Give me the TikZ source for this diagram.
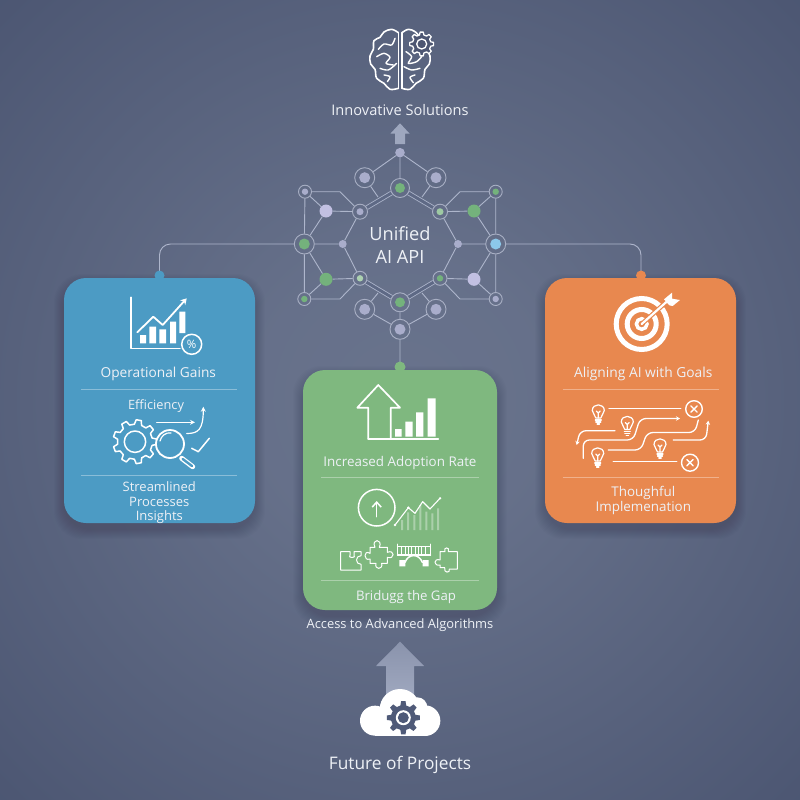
\documentclass[tikz,border=0pt]{standalone}
\usepackage{fontspec}
\setmainfont{Open Sans}
\usetikzlibrary{arrows.meta,calc}
\pgfdeclarelayer{bgl}\pgfdeclarelayer{edges}
\pgfsetlayers{bgl,edges,main}
\definecolor{txt}{HTML}{EEF1F6}
\definecolor{edgec}{HTML}{AEB6CC}
\definecolor{ringc}{HTML}{BFC5D8}
\definecolor{hexin}{HTML}{5E6985}
\definecolor{lav}{HTML}{A9ADCB}
\definecolor{lavb}{HTML}{C2C0E2}
\definecolor{grn}{HTML}{74B27C}
\definecolor{blu}{HTML}{8CC8EA}
\definecolor{pblue}{HTML}{4C9BC4}
\definecolor{pgreen}{HTML}{7FB87F}
\definecolor{porange}{HTML}{E8884F}
\definecolor{gearbg}{HTML}{4F5A78}
\definecolor{iconbg}{HTML}{4D5672}
\pgfdeclareradialshading{bgrad}{\pgfpoint{0bp}{0bp}}{rgb(0bp)=(0.41,0.45,0.55);rgb(9bp)=(0.40,0.44,0.54);rgb(35bp)=(0.30,0.34,0.45);rgb(50bp)=(0.275,0.315,0.425);rgb(71bp)=(0.27,0.31,0.42)}
\tikzset{
  lbl/.style={text=txt,inner sep=0pt,align=center,font=\fontsize{#1}{#1}\selectfont},
  lbl/.default=12,
  ico/.style={draw=white,line width=1.5pt,line cap=round,line join=round},
  dividerline/.style={draw=white,draw opacity=.35,line width=.8pt},
  panelbox/.style={rounded corners=22pt,minimum width=#1,inner sep=0pt,draw=none},
  netring/.style={circle,draw=ringc,draw opacity=.75,line width=.9pt,inner sep=0pt},
  netedge/.style={draw=edgec,line width=.9pt},
  conn/.style={draw=edgec,line width=.9pt,rounded corners=11pt},
}
% name x y colour dotradius ringradius
\newcommand\nn[6]{\node[netring,minimum size=#6*2pt] (#1) at (#2,#3) {};\fill[#4] (#1.center) circle (#5);}
\newcommand\nd[5]{\node[circle,fill=#4,inner sep=0pt,minimum size=#5*2pt] (#1) at (#2,#3) {};}
\newcommand\pshadow[4]{\foreach \k in {1,...,10}{\fill[black,opacity=.012,rounded corners=28pt] (#1-\k,#2-\k+6) rectangle (#3+\k,#4+\k+6);}}
% x y rout rin teeth style
\newcommand\gearico[6]{\begin{scope}[shift={(#1,#2)}]\pgfmathtruncatemacro\gearlast{#5-1}\path[#6] ({-0.30*360/#5}:#4) \foreach \i in {0,...,\gearlast}{
   -- ({\i*360/#5-0.30*360/#5}:#4) -- ({\i*360/#5-0.17*360/#5}:#3) -- ({\i*360/#5+0.17*360/#5}:#3) -- ({\i*360/#5+0.30*360/#5}:#4)} -- cycle;\end{scope}}
\newcommand\bulb[2]{\begin{scope}[shift={(#1,#2)}]
  \draw[ico,line width=1.2pt] (-2.5,4) .. controls (-2.5,1) and (-6,0) .. (-6,-3.5) .. controls (-6,-11) and (6,-11) .. (6,-3.5) .. controls (6,0) and (2.5,1) .. (2.5,4) -- cycle;
  \draw[ico,line width=1.2pt] (0,4) -- (0,-1) (-2,-3) -- (0,-1) -- (2,-3);
  \draw[ico,line width=1.2pt] (-3,6) -- (3,6) (-2.5,8) -- (2.5,8) (-1.2,10) -- (1.2,10);
\end{scope}}
\newcommand\xcirc[3]{\draw[ico,line width=1.4pt] (#1,#2) circle (#3);\draw[ico,line width=1.4pt] (#1-3.2,#2-3.2) -- (#1+3.2,#2+3.2) (#1-3.2,#2+3.2) -- (#1+3.2,#2-3.2);}
\begin{document}
\begin{tikzpicture}[x=1pt,y=-1pt]
\useasboundingbox (0,0) rectangle (800,800);
\begin{pgfonlayer}{bgl}
\shade[shading=bgrad] (0,0) rectangle (800,800);
\pshadow{64}{278}{255}{523}
\pshadow{303}{370}{497}{610}
\pshadow{545}{278}{736}{523}
\end{pgfonlayer}

% ---------- panels
\node[panelbox=191pt,minimum height=245pt,fill=pblue] (pb) at (159.5,400.5) {};
\node[panelbox=194pt,minimum height=240pt,fill=pgreen] (pg) at (400,490) {};
\node[panelbox=191pt,minimum height=245pt,fill=porange] (po) at (640.5,400.5) {};
\fill[pblue] (159.5,275.5) circle (5);
\fill[pgreen] (400,367) circle (5.5);
\fill[porange] (641,275.5) circle (5);

% ---------- network
\nd{nT}{400}{152.7}{lav}{4.8}
\nn{nUL}{364.7}{177.7}{lav}{5.5}{10}
\nn{nUR}{436}{177.7}{lav}{5.5}{10}
\nn{nA}{400}{188}{grn}{5}{9.5}
\nn{hTL}{360}{211.7}{lav}{3.5}{7.5}
\nn{hTR}{440}{211.7}{grn!70!white}{3.5}{7.5}
\nn{cTL}{305}{191.7}{lav}{3.2}{6.5}
\nn{cTR}{495.7}{191.7}{grn}{3.2}{6.5}
\nd{bTL}{326}{211}{lavb}{6.5}
\nd{bTR}{474}{211}{grn}{6.5}
\nn{mL}{304.3}{244}{grn}{5.5}{10}
\nn{mR}{495.7}{244}{blu}{5.5}{10}
\nd{hL}{342.7}{244}{lav}{4}
\nd{hR}{458}{244}{lav}{4}
\nn{hBL}{360}{278.3}{grn!60!white}{3.2}{7}
\nn{hBR}{440}{278.3}{grn}{3.2}{7}
\nd{bBL}{326}{279.3}{grn}{6.5}
\nd{bBR}{474}{279.3}{lavb}{6.5}
\nn{cBL}{304.3}{299}{grn}{3.2}{6.5}
\nn{cBR}{495.7}{299}{lav}{3.2}{6.5}
\nn{nB}{400}{302.3}{grn}{5}{9.5}
\nn{nLL}{364.7}{309.3}{lav}{5.5}{10}
\nn{nLR}{436}{309.3}{lav}{5.5}{10}
\nn{nC}{400}{329.3}{lav}{5.5}{10}
\coordinate (jUL) at (378,197);
\coordinate (jUR) at (422,197);
\coordinate (jLL) at (378,293);
\coordinate (jLR) at (422,293);
\coordinate (kTL) at (340,191.7);
\coordinate (kTR) at (460,191.7);
\coordinate (kBL) at (340,299);
\coordinate (kBR) at (460,299);

\begin{pgfonlayer}{edges}
\draw[netedge,double=hexin,double distance=3pt,line width=.8pt] (nA) -- (hTL) (nA) -- (hTR) (nB) -- (hBL) (nB) -- (hBR);
\draw[netedge] (hTL) -- (hL) -- (hBL) (hTR) -- (hR) -- (hBR);
\draw[netedge] (nT) -- (nA) (nT) -- (nUL) (nT) -- (nUR) (nUL) -- (jUL) (nUR) -- (jUR);
\draw[netedge] (cTL) -- (kTL) -- (hTL) (cTR) -- (kTR) -- (hTR) (cBL) -- (kBL) -- (hBL) (cBR) -- (kBR) -- (hBR);
\draw[netedge] (cTL) -- (bTL) (bTL) -- (hTL) (bTL) -- (mL) (cTL) -- (mL) (mL) -- (cBL) (mL) -- (hL) (mL) -- (bBL) (bBL) -- (hBL) (bBL) -- (cBL);
\draw[netedge] (cTR) -- (bTR) (bTR) -- (hTR) (bTR) -- (mR) (cTR) -- (mR) (mR) -- (cBR) (mR) -- (hR) (mR) -- (bBR) (bBR) -- (hBR) (bBR) -- (cBR);
\draw[netedge] (nLL) -- (jLL) (nLR) -- (jLR) (nLL) -- (nC) (nLR) -- (nC) (nB) -- (nC) (nC) -- (pg.north);
\draw[conn] (mL) -| (pb.north);
\draw[conn] (mR) -| (641,278);
\end{pgfonlayer}

\node[lbl=18.2] (core) at (400,245) {Unified\\[5.5pt]AI API};

% ---------- top: brain
\begin{scope}[shift={(280,20)},scale=1/3]
 \draw[ico,line width=1.6pt] (355,38) -- (355,205);
 \draw[ico,line width=1.6pt] plot[smooth,tension=.6] coordinates {(355,38) (335,28) (312,36) (300,52) (282,62) (280,88) (270,108) (272,132) (285,148) (290,175) (312,190) (330,208) (355,205)};
 \draw[ico,line width=1.6pt] (366,38) -- (366,205);
 \draw[ico,line width=1.6pt] plot[smooth,tension=.6] coordinates {(366,38) (385,28) (405,35) (418,50) (438,85) (450,108) (448,132) (435,148) (430,175) (408,190) (390,208) (366,205)};
 \draw[ico,line width=1.4pt] plot[smooth] coordinates {(345,55) (335,75) (312,72) (295,88)};
 \draw[ico,line width=1.4pt] plot[smooth] coordinates {(290,110) (312,100) (330,112) (318,130) (340,135)};
 \draw[ico,line width=1.4pt] plot[smooth] coordinates {(300,145) (325,150) (350,130)};
 \draw[ico,line width=1.4pt] plot[smooth] coordinates {(312,165) (330,170) (322,185)};
 \draw[ico,line width=1.4pt] plot[smooth] coordinates {(378,95) (395,110) (385,130) (410,125) (425,110)};
 \draw[ico,line width=1.4pt] plot[smooth] coordinates {(372,140) (395,150) (420,145)};
 \draw[ico,line width=1.4pt] plot[smooth] coordinates {(405,165) (390,172) (400,188)};
\end{scope}
\gearico{421.7}{44}{12}{9.3}{8}{draw=white,fill=iconbg,line width=1.3pt,line join=round}
\draw[white,line width=1.3pt] (421.7,44) circle (5);
\node[lbl=14.6] (tInnov) at (400,110.5) {Innovative Solutions};
\fill[fill=edgec!80!hexin] (400,123.3) -- (409.5,133.5) -- (405,133.5) -- (405,144) -- (395,144) -- (395,133.5) -- (390.5,133.5) -- cycle;

% ---------- blue panel
\draw[ico] (131,297.3) -- (131,348.3) -- (180,348.3);
\fill[white] (140,335) rectangle (146,343.3) (149.3,326.7) rectangle (156,343.3) (159.3,329.3) rectangle (166,343.3) (170,321.7) rectangle (176,343.3) (179.3,311.7) rectangle (185.3,333);
\draw[ico,line width=1.8pt,-{Stealth[length=6pt,width=7pt]}] (137.3,332.3) -- (153.3,316.7) -- (162.7,325) -- (186.7,298.3);
\draw[ico,fill=pblue] (191.7,344.3) circle (10);
\node[lbl=11.5] (tpct) at (191.7,344.3) {\textcolor{white}{\%}};
\node[lbl=13.7] (tOp) at (158.3,374) {Operational Gains};
\draw[dividerline] (81.3,389) -- (236.7,389);
\node[lbl=12.8] (tEff) at (156,406.5) {Efficiency};
\gearico{135}{441.7}{22}{17.5}{9}{draw=white,line width=1.5pt,line join=round}
\draw[ico] (135,441.7) circle (10.7);
\draw[ico,line width=1.2pt,-{Stealth[length=5pt,width=5pt]}] (156.7,422.3) -- (195,422.3);
\draw[ico,line width=1.2pt,-{Stealth[length=5pt,width=5pt]}] (186.7,433.5) .. controls (198,433.5) and (203.3,430) .. (203.3,406.7);
\draw[ico,line width=1.8pt,fill=pblue] (170,444) circle (14);
\draw[white,line width=5pt,line cap=round] (181.7,458.3) -- (192.7,466.7);
\draw[pblue,line width=2.4pt,line cap=round] (182.7,459) -- (192,466);
\draw[ico,line width=1.2pt] (160,441) .. controls (161,436) and (166,432) .. (171,433);
\draw[ico] (191.7,448.3) -- (198.3,451.7) -- (209.3,438.3);
\draw[dividerline] (81.3,475.7) -- (236.7,475.7);
\node[lbl=13] (tStr) at (159.3,502.8) {Streamlined\\[1.2pt]Processes\\[1.2pt]Insights};

% ---------- green panel
\draw[ico,line width=1.7pt] (368.3,439) -- (368.3,407.7) -- (357.3,407.7) -- (378.3,385) -- (400,407.7) -- (390.7,407.7) -- (390.7,439);
\draw[ico,line width=1.7pt] (368.3,439) -- (438.3,439);
\fill[white] (395,429) rectangle (401.7,436.7) (405.3,421.7) rectangle (412.7,436.7) (416,412.3) rectangle (423.3,436.7) (427.7,398.3) rectangle (435.7,436.7);
\node[lbl=13.4] (tInc) at (400,463.5) {Increased Adoption Rate};
\draw[dividerline] (321.3,477.7) -- (479,477.7);
\draw[ico] (376.7,507.7) circle (18.3);
\draw[ico,-{Straight Barb[length=5pt,width=9pt]}] (376.7,516.7) -- (376.7,501);
\begin{scope}[shift={(300,365)},scale=1/3]
 \fill[white,opacity=.35] (303,465) rectangle (309,495) (321,442) rectangle (327,495) (340,450) rectangle (346,495) (358,420) rectangle (364,495) (376,440) rectangle (382,495) (394,445) rectangle (400,495) (411,430) rectangle (417,495);
 \draw[ico,line width=1.1pt] (285,480) -- (325,428) -- (345,445) -- (368,410) -- (390,432) -- (420,400);
 \fill[white] (285,480) circle (4) (325,428) circle (4) (420,400) circle (4);
 % puzzle pieces
 \draw[ico,line width=1pt] (122,560) -- (150,560) -- (150,570) .. controls (140,580) and (172,580) .. (162,570) -- (162,560) -- (183,560) -- (183,572) .. controls (165,572) and (165,598) .. (183,598) -- (183,615) -- (122,615) -- cycle;
 \draw[ico,line width=1pt] (210,547) -- (225,547) .. controls (212,520) and (250,520) .. (238,547) -- (262,547) -- (262,562) .. controls (285,552) and (285,585) .. (262,577) -- (262,595) -- (245,595) .. controls (250,615) and (222,615) .. (228,595) -- (210,595) -- (210,582) .. controls (190,590) and (190,552) .. (210,565) -- cycle;
 \draw[ico,line width=1.1pt] (292,570) -- (392,570);
 \draw[ico,line width=1pt] (292,537) -- (292,570) (390,537) -- (390,570) (292,545) -- (390,545);
 \foreach \bx in {305,315,...,380}{\draw[white,line width=.6pt] (\bx,545) -- (\bx,568);}
 \draw[ico,line width=1.5pt] (315,592) .. controls (325,565) and (357,565) .. (367,592);
 \fill[white] (298,585) -- (316,585) -- (316,604) -- (298,604) -- cycle (368,585) -- (386,585) -- (386,604) -- (368,604) -- cycle;
 \draw[ico,line width=1pt] (420,560) -- (435,560) .. controls (428,545) and (452,545) .. (445,560) -- (472,560) -- (472,612) -- (448,612) .. controls (452,625) and (430,625) .. (434,608) -- (420,608) -- (420,600) .. controls (400,605) and (400,578) .. (420,585) -- cycle;
\end{scope}
\draw[dividerline] (321.3,580) -- (479,580);
\node[lbl=13.2] (tBri) at (406,597) {Bridugg the Gap};
\node[lbl=12.9] (tAcc) at (400,625) {Access to Advanced Algorithms};

% ---------- orange panel
\draw[white,line width=5pt] (641.7,324) circle (25.5);
\draw[white,line width=5pt] (641.7,324) circle (14.5);
\draw[white,line width=3.5pt] (641.7,324) circle (5.3);
\draw[porange,line width=4.5pt] (641.7,324) -- (668,300.5);
\draw[white,line width=2.2pt,line cap=round] (641.7,324) -- (668,300.5);
\begin{scope}[shift={(540,270)},scale=1/3]
 \fill[white] (372,88) -- (396,68) -- (396,86) -- (420,90) -- (398,108) -- (388,106) -- cycle;
\end{scope}
\node[lbl=13.8] (tAli) at (643.3,374) {Aligning AI with Goals};
\draw[dividerline] (562.7,389.3) -- (719,389.3);
\bulb{598.3}{414}
\bulb{627.3}{425.5}
\bulb{660}{448}
\bulb{597.7}{457}
\xcirc{694}{409}{8.3}
\xcirc{690}{462.7}{8.5}
\tikzset{flowline/.style={ico,line width=1.3pt,rounded corners=6pt},flowtip/.style={-{Stealth[length=4pt,width=4.5pt]}}}
\draw[flowline] (609,408.3) -- (680.7,408.3);
\draw[flowline,flowtip] (583.3,458.3) -- (583.3,440) -- (633.3,440) -- (640,418.5) -- (680,418.5);
\draw[flowline,flowtip] (615,430.7) -- (580,430.7) -- (576.7,445);
\draw[flowline] (608.3,450) -- (641,450) -- (647,432.5) -- (695,432.5) -- (698.3,420);
\draw[flowline,flowtip] (673.3,440) -- (706,440) -- (708.3,420.7);
\draw[flowline] (613.3,461.7) -- (676.7,461.7);
\draw[dividerline] (562.7,477.3) -- (719,477.3);
\node[lbl=13.4] (tTho) at (643.3,500.5) {Thoughful\\[2.5pt]Implemenation};

% ---------- bottom
\shade[top color=edgec!55!hexin,bottom color=edgec!85!hexin] (400,641.7) -- (424,666) -- (414,666) -- (414,705) -- (386,705) -- (386,666) -- (376,666) -- cycle;
\begin{scope}[shift={(300,610)},scale=1/3]
 \fill[white] (300,298) circle (61);
 \fill[white] (225,332) circle (45);
 \fill[white] (375,332) circle (46);
 \fill[white] (352,292) circle (30);
 \fill[white] (225,320) rectangle (375,377);
\end{scope}
\gearico{403.3}{717.7}{16.7}{12.5}{8}{fill=gearbg}
\fill[white] (403.3,717.7) circle (7.5);
\fill[gearbg] (403.3,717.7) circle (5.5);
\node[lbl=17.3] (tFut) at (400,764.8) {Future of Projects};
\end{tikzpicture}
\end{document}
